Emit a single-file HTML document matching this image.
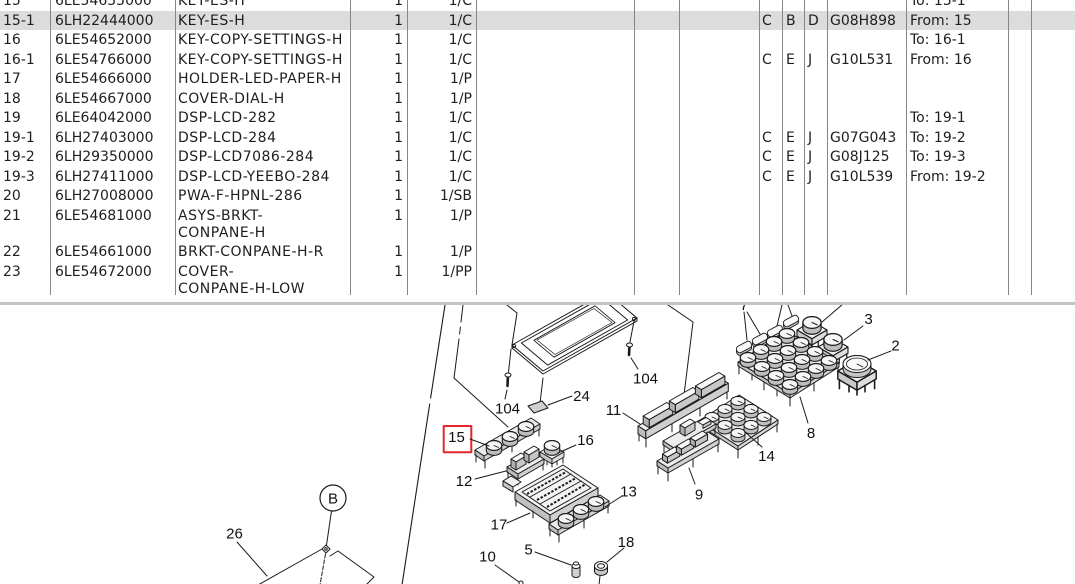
<!DOCTYPE html>
<html><head><meta charset="utf-8">
<style>
html,body{margin:0;padding:0;}
body{width:1075px;height:584px;overflow:hidden;background:#fff;position:relative;font-family:"DejaVu Sans","Liberation Sans",sans-serif;font-size:14px;color:#1e1e1e;}
.hl{position:absolute;left:0;top:11px;width:1075px;height:19px;background:#dcdcdc;}
.v{position:absolute;top:0;width:1px;height:295px;background:#868686;}
.sep{position:absolute;left:0;top:302px;width:1075px;height:3px;background:#c4c4c4;}
.row{position:absolute;left:0;width:1075px;height:17px;line-height:17px;}
.row span{position:absolute;top:0;white-space:nowrap;display:block;}
.c1{left:3px}.c2{left:55px}.c3{left:178px;letter-spacing:.5px}
.c4{left:350px;width:53px;text-align:right}
.c5{left:407px;width:65px;text-align:right}
.c9{left:762px}.c10{left:786px}.c11{left:808px}.c12{left:830px}.c13{left:910px}
svg{position:absolute;left:0;top:0;}
.lb{font-family:"Liberation Sans",Arial,sans-serif;font-size:15px;fill:#111;stroke:none;text-anchor:middle;}
</style></head><body>
<div class="hl"></div>
<div class="v" style="left:50px"></div>
<div class="v" style="left:175px"></div>
<div class="v" style="left:350px"></div>
<div class="v" style="left:407px"></div>
<div class="v" style="left:476px"></div>
<div class="v" style="left:634px"></div>
<div class="v" style="left:679px"></div>
<div class="v" style="left:759px"></div>
<div class="v" style="left:782px"></div>
<div class="v" style="left:804px"></div>
<div class="v" style="left:827px"></div>
<div class="v" style="left:906px"></div>
<div class="v" style="left:1008px"></div>
<div class="v" style="left:1031px"></div>

<div class="row" style="top:-7px"><span class="c1">15</span><span class="c2">6LE54655000</span><span class="c3">KEY-ES-H</span><span class="c4">1</span><span class="c5">1/C</span><span class="c13">To: 15-1</span></div>
<div class="row" style="top:12.5px"><span class="c1">15-1</span><span class="c2">6LH22444000</span><span class="c3">KEY-ES-H</span><span class="c4">1</span><span class="c5">1/C</span><span class="c9">C</span><span class="c10">B</span><span class="c11">D</span><span class="c12">G08H898</span><span class="c13">From: 15</span></div>
<div class="row" style="top:32px"><span class="c1">16</span><span class="c2">6LE54652000</span><span class="c3">KEY-COPY-SETTINGS-H</span><span class="c4">1</span><span class="c5">1/C</span><span class="c13">To: 16-1</span></div>
<div class="row" style="top:51.5px"><span class="c1">16-1</span><span class="c2">6LE54766000</span><span class="c3">KEY-COPY-SETTINGS-H</span><span class="c4">1</span><span class="c5">1/C</span><span class="c9">C</span><span class="c10">E</span><span class="c11">J</span><span class="c12">G10L531</span><span class="c13">From: 16</span></div>
<div class="row" style="top:71px"><span class="c1">17</span><span class="c2">6LE54666000</span><span class="c3">HOLDER-LED-PAPER-H</span><span class="c4">1</span><span class="c5">1/P</span></div>
<div class="row" style="top:90.5px"><span class="c1">18</span><span class="c2">6LE54667000</span><span class="c3">COVER-DIAL-H</span><span class="c4">1</span><span class="c5">1/P</span></div>
<div class="row" style="top:110px"><span class="c1">19</span><span class="c2">6LE64042000</span><span class="c3">DSP-LCD-282</span><span class="c4">1</span><span class="c5">1/C</span><span class="c13">To: 19-1</span></div>
<div class="row" style="top:129.5px"><span class="c1">19-1</span><span class="c2">6LH27403000</span><span class="c3">DSP-LCD-284</span><span class="c4">1</span><span class="c5">1/C</span><span class="c9">C</span><span class="c10">E</span><span class="c11">J</span><span class="c12">G07G043</span><span class="c13">To: 19-2</span></div>
<div class="row" style="top:149px"><span class="c1">19-2</span><span class="c2">6LH29350000</span><span class="c3">DSP-LCD7086-284</span><span class="c4">1</span><span class="c5">1/C</span><span class="c9">C</span><span class="c10">E</span><span class="c11">J</span><span class="c12">G08J125</span><span class="c13">To: 19-3</span></div>
<div class="row" style="top:168.5px"><span class="c1">19-3</span><span class="c2">6LH27411000</span><span class="c3">DSP-LCD-YEEBO-284</span><span class="c4">1</span><span class="c5">1/C</span><span class="c9">C</span><span class="c10">E</span><span class="c11">J</span><span class="c12">G10L539</span><span class="c13">From: 19-2</span></div>
<div class="row" style="top:188px"><span class="c1">20</span><span class="c2">6LH27008000</span><span class="c3">PWA-F-HPNL-286</span><span class="c4">1</span><span class="c5">1/SB</span></div>
<div class="row" style="top:207.5px"><span class="c1">21</span><span class="c2">6LE54681000</span><span class="c3">ASYS-BRKT-<br>CONPANE-H</span><span class="c4">1</span><span class="c5">1/P</span></div>
<div class="row" style="top:244px"><span class="c1">22</span><span class="c2">6LE54661000</span><span class="c3">BRKT-CONPANE-H-R</span><span class="c4">1</span><span class="c5">1/P</span></div>
<div class="row" style="top:263.5px"><span class="c1">23</span><span class="c2">6LE54672000</span><span class="c3">COVER-<br>CONPANE-H-LOW</span><span class="c4">1</span><span class="c5">1/PP</span></div>

<div class="sep"></div>

<svg width="1075" height="584" viewBox="0 0 1075 584">
<defs>
<clipPath id="dc"><rect x="0" y="305" width="1075" height="279"/></clipPath>
<g id="cap">
<path d="M-7,-0.5 V-5 A7,4.5 0 0 1 7,-5 V-0.5 A7,4.5 0 0 1 -7,-0.5 Z" fill="#bdbdbd" stroke="#1a1a1a" stroke-width=".95"/>
<ellipse cx="0" cy="-5" rx="7" ry="4.5" fill="#f6f6f6" stroke="#1a1a1a" stroke-width=".95"/>
<path d="M0,-5 L4,-3.2" stroke="#1a1a1a" stroke-width=".8" fill="none"/>
</g>
<g id="kb">
<path d="M-12,0 L0,-7 L12,0 L0,7 Z" fill="#f0f0f0" stroke="#1a1a1a" stroke-width=".9"/>
<path d="M-12,0 V5 L0,12 V7 Z" fill="#c8c8c8" stroke="#1a1a1a" stroke-width=".9"/>
<path d="M0,7 V12 L12,5 V0 Z" fill="#dddddd" stroke="#1a1a1a" stroke-width=".9"/>
<path d="M-11,5.5 V11 M11,5.5 V11 M0,12 V15 M-5,9 V13 M5,9 V13" stroke="#1a1a1a" stroke-width="1" fill="none"/>
</g>
</defs>
<g clip-path="url(#dc)" fill="none" stroke="#1a1a1a" stroke-width="1" stroke-linejoin="round" stroke-linecap="round">

<!-- chain line -->
<path d="M445,305 L430.6,398 M429.7,404 L402,585" stroke-width="1.1"/>
<!-- line to 15 -->
<path d="M463,305 L461,322 M460.4,327 L459.6,334 M459,339 L454,378 L508,427"/>

<!-- LCD panel -->
<path d="M507,305 L517,313 L512,345"/>
<path d="M512,345 L543,371 L637,318 L606,292 Z" fill="#fff"/>
<path d="M512,345 L512,348 L543,374 L637,321 L637,318"/>
<path d="M521.4,343 L547.7,365.1 L627.6,320 L601.3,297.9 Z"/>
<path d="M533.9,340.3 L554,357.2 L615.1,322.7 L595,305.8 Z" stroke-width=".9"/>
<path d="M537,340 L555,354.5 L612,322.5 L594,308.5 Z" stroke-width=".7"/>
<circle cx="514" cy="346" r="1.6"/>
<circle cx="634" cy="319" r="1.6"/>
<!-- left screw 104 -->
<path d="M511,349 L508.5,372"/>
<path d="M508,375 L507.5,386" stroke-width="2.6"/>
<ellipse cx="508" cy="375" rx="3" ry="2" fill="#fff"/>
<path d="M507,390 L505,399"/>
<!-- right screw 104 -->
<path d="M634,321 L630,342"/>
<path d="M629.5,345 L629,355" stroke-width="2.6"/>
<ellipse cx="629.5" cy="345" rx="3" ry="2" fill="#fff"/>
<path d="M631,358 L638,369"/>
<!-- 24 -->
<path d="M543,378 L540,403"/>
<path d="M528,406 L542,401 L548,408 L534,413 Z" fill="#d0d0d0"/>
<path d="M548,405 L572,396"/>

<!-- line to 11 -->
<path d="M668,305 L693,322 L684,395"/>
<path d="M623,413 L640,424"/>

<!-- item 11 strip -->
<path d="M638,426 L720.6,378.5 L728.3,383.3 L645.7,430.8 Z" fill="#f0f0f0"/>
<path d="M645.7,430.8 L728.3,383.3 L728.3,391.3 L645.7,438.8 Z" fill="#cfcfcf"/>
<path d="M638,426 L645.7,430.8 L645.7,438.8 L638,434 Z" fill="#bdbdbd"/>
<path d="M639,434 V441 M646,439 V447 M672,424 V432 M700,408 V416 M727,392 V399"/>
<path d="M643.2,416 L666.7,402.5 L672.7,406.2 L649.2,419.7Z" fill="#f8f8f8"/>
<path d="M649.2,419.7 L672.7,406.2 L672.7,414.2 L649.2,427.7Z" fill="#c8c8c8"/>
<path d="M643.2,416 L649.2,419.7 L649.2,427.7 L643.2,424Z" fill="#b0b0b0"/>
<path d="M669.3,401 L692.8,387.5 L698.8,391.2 L675.3,404.7Z" fill="#f8f8f8"/>
<path d="M675.3,404.7 L698.8,391.2 L698.8,399.2 L675.3,412.7Z" fill="#c8c8c8"/>
<path d="M669.3,401 L675.3,404.7 L675.3,412.7 L669.3,409Z" fill="#b0b0b0"/>
<path d="M695.4,386 L718.9,372.5 L724.9,376.2 L701.4,389.7Z" fill="#f8f8f8"/>
<path d="M701.4,389.7 L724.9,376.2 L724.9,384.2 L701.4,397.7Z" fill="#c8c8c8"/>
<path d="M695.4,386 L701.4,389.7 L701.4,397.7 L695.4,394Z" fill="#b0b0b0"/>

<!-- item 7 keys -->
<g stroke-width=".9">
<rect x="-8" y="-3.5" width="16" height="7" rx="3" transform="translate(744,349.5) rotate(-28)" fill="#c0c0c0"/>
<rect x="-8" y="-3.5" width="16" height="7" rx="3" transform="translate(744,347) rotate(-28)" fill="#f8f8f8"/>
<rect x="-8" y="-3.5" width="16" height="7" rx="3" transform="translate(760,341.5) rotate(-28)" fill="#c0c0c0"/>
<rect x="-8" y="-3.5" width="16" height="7" rx="3" transform="translate(760,339) rotate(-28)" fill="#f8f8f8"/>
<rect x="-8" y="-3.5" width="16" height="7" rx="3" transform="translate(775,333.5) rotate(-28)" fill="#c0c0c0"/>
<rect x="-8" y="-3.5" width="16" height="7" rx="3" transform="translate(775,331) rotate(-28)" fill="#f8f8f8"/>
<rect x="-8" y="-3.5" width="16" height="7" rx="3" transform="translate(791,323.5) rotate(-28)" fill="#c0c0c0"/>
<rect x="-8" y="-3.5" width="16" height="7" rx="3" transform="translate(791,321) rotate(-28)" fill="#f8f8f8"/>
</g>
<path d="M747,340 L744,312 M760,334 L747,312 M777,326 L782,305 M792,316 L788,305"/>
<text class="lb" x="744" y="310">7</text>

<!-- key above 3 -->
<use href="#kb" transform="translate(812,330) scale(1.25)"/>
<use href="#cap" transform="translate(812,329) scale(1.3)"/>
<path d="M822,322 L843,304"/>
<!-- item 3 -->
<use href="#kb" transform="translate(833,347) scale(1.25)"/>
<use href="#cap" transform="translate(833,346) scale(1.3)"/>
<path d="M863,326 L844,340"/>
<!-- item 2 -->
<use href="#kb" transform="translate(857,371) scale(1.6)"/>
<path d="M843,369 V364 A14,8.5 0 0 1 871,364 V369 A14,8.5 0 0 1 843,369 Z" fill="#c4c4c4"/>
<ellipse cx="857" cy="364" rx="14" ry="8.5" fill="#f8f8f8"/>
<ellipse cx="857" cy="364" rx="10.5" ry="6" stroke-width=".8"/>
<path d="M857,364 L863,367" stroke-width=".8"/>
<path d="M891,351 L868,360"/>

<!-- item 8 board -->
<path d="M738,362 L787,331 L839,363 L790,394 Z" fill="#ececec"/>
<path d="M738,362 V366 L790,398 V394 Z" fill="#c6c6c6"/>
<path d="M790,398 L839,367 V363 L790,394 Z" fill="#d8d8d8"/>
<path d="M739,366 V374 M764,382 V390 M790,398 V406 M814,383 V391 M838,367 V375 M752,374 V380 M777,390 V396"/>
<use href="#cap" transform="translate(787,339) scale(1.1)"/>
<use href="#cap" transform="translate(801,348) scale(1.1)"/>
<use href="#cap" transform="translate(774,347) scale(1.1)"/>
<use href="#cap" transform="translate(815,357) scale(1.1)"/>
<use href="#cap" transform="translate(788,356) scale(1.1)"/>
<use href="#cap" transform="translate(761,355) scale(1.1)"/>
<use href="#cap" transform="translate(829,366) scale(1.1)"/>
<use href="#cap" transform="translate(802,365) scale(1.1)"/>
<use href="#cap" transform="translate(775,364) scale(1.1)"/>
<use href="#cap" transform="translate(748,363) scale(1.1)"/>
<use href="#cap" transform="translate(816,374) scale(1.1)"/>
<use href="#cap" transform="translate(789,373) scale(1.1)"/>
<use href="#cap" transform="translate(762,372) scale(1.1)"/>
<use href="#cap" transform="translate(803,382) scale(1.1)"/>
<use href="#cap" transform="translate(776,381) scale(1.1)"/>
<use href="#cap" transform="translate(790,390) scale(1.1)"/>
<path d="M808,423 L800,397"/>

<!-- item 14 board -->
<path d="M699,421 L739,395 L778,420 L738,446 Z" fill="#ececec"/>
<path d="M699,421 V425 L738,450 V446 Z" fill="#c6c6c6"/>
<path d="M738,450 L778,424 V420 L738,446 Z" fill="#d8d8d8"/>
<path d="M700,425 V433 M718,437 V445 M738,450 V458 M758,437 V445 M777,424 V432"/>
<use href="#cap" transform="translate(738,406)"/>
<use href="#cap" transform="translate(725,414)"/>
<use href="#cap" transform="translate(751,414)"/>
<use href="#cap" transform="translate(712,422)"/>
<use href="#cap" transform="translate(738,422)"/>
<use href="#cap" transform="translate(764,422)"/>
<use href="#cap" transform="translate(725,430)"/>
<use href="#cap" transform="translate(751,430)"/>
<use href="#cap" transform="translate(738,438)"/>
<path d="M762,447 L745,432"/>

<!-- item 9 upper board -->
<path d="M663,441 L705,417 L716,424 L674,448 Z" fill="#ececec"/>
<path d="M674,448 L716,424 V428 L674,452 Z" fill="#d0d0d0"/>
<path d="M663,441 L674,448 V452 L663,445 Z" fill="#bdbdbd"/>
<path d="M664,445 V452 M715,428 V435"/>
<path d="M680,425 L690,419 L695,422 L685,428Z" fill="#f8f8f8"/>
<path d="M685,428 L695,422 V430 L685,436Z" fill="#c6c6c6"/>
<path d="M680,425 L685,428 V436 L680,433Z" fill="#b0b0b0"/>
<path d="M698,422 L706,417.5 L711,420.5 L703,425Z" fill="#f8f8f8"/>
<path d="M703,425 L711,420.5 V424 L703,428.5Z" fill="#c6c6c6"/>
<!-- item 9 lower board -->
<path d="M657,461 L708,432 L719,439 L668,468 Z" fill="#ececec"/>
<path d="M668,468 L719,439 V444 L668,473 Z" fill="#d0d0d0"/>
<path d="M657,461 L668,468 V473 L657,466 Z" fill="#bdbdbd"/>
<path d="M658,466 V474 M668,473 V481 M693,459 V467 M718,444 V452"/>
<path d="M662.5,454 L674.7,447 L679.7,450.2 L667.5,457.2Z" fill="#f8f8f8"/>
<path d="M667.5,457.2 L679.7,450.2 V456.2 L667.5,463.2Z" fill="#c6c6c6"/>
<path d="M662.5,454 L667.5,457.2 V463.2 L662.5,460Z" fill="#b0b0b0"/>
<path d="M676.4,446 L688.6,439 L693.6,442.2 L681.4,449.2Z" fill="#f8f8f8"/>
<path d="M681.4,449.2 L693.6,442.2 V448.2 L681.4,455.2Z" fill="#c6c6c6"/>
<path d="M676.4,446 L681.4,449.2 V455.2 L676.4,452Z" fill="#b0b0b0"/>
<path d="M690.3,438 L702.5,431 L707.5,434.2 L695.3,441.2Z" fill="#f8f8f8"/>
<path d="M695.3,441.2 L707.5,434.2 V440.2 L695.3,447.2Z" fill="#c6c6c6"/>
<path d="M690.3,438 L695.3,441.2 V447.2 L690.3,444Z" fill="#b0b0b0"/>
<path d="M695,484 L689,468"/>

<!-- item 15 strip -->
<path d="M475,450 L531,418 L540,424 L484,456 Z" fill="#ececec"/>
<path d="M484,456 L540,424 V429 L484,461 Z" fill="#cfcfcf"/>
<path d="M475,450 L484,456 V461 L475,455 Z" fill="#bdbdbd"/>
<path d="M476,455 V462 M485,461 V468 M512,445 V452 M539,429 V436"/>
<use href="#cap" transform="translate(526,432) scale(1.1)"/>
<use href="#cap" transform="translate(510,442) scale(1.1)"/>
<use href="#cap" transform="translate(494,451) scale(1.1)"/>
<rect x="443.7" y="426" width="27.6" height="26.3" stroke="#e3262a" stroke-width="2"/>
<path d="M470,439 L489,446"/>

<!-- item 16 -->
<use href="#kb" x="552" y="452"/>
<use href="#cap" transform="translate(552,451) scale(1.1)"/>
<path d="M576,445 L558,453"/>

<!-- item 12 -->
<path d="M507,467 L533,452 L544,459 L518,474 Z" fill="#ececec"/>
<path d="M518,474 L544,459 V464 L518,479 Z" fill="#cfcfcf"/>
<path d="M507,467 L518,474 V479 L507,472 Z" fill="#bdbdbd"/>
<path d="M508,472 V478 M518,479 V485 M543,464 V470"/>
<path d="M511,459 L521,453 L526,456 L516,462Z" fill="#f8f8f8"/>
<path d="M516,462 L526,456 V464 L516,470Z" fill="#c6c6c6"/>
<path d="M511,459 L516,462 V470 L511,467Z" fill="#b0b0b0"/>
<path d="M524,452 L534,446 L539,449 L529,455Z" fill="#f8f8f8"/>
<path d="M529,455 L539,449 V457 L529,463Z" fill="#c6c6c6"/>
<path d="M524,452 L529,455 V463 L524,460Z" fill="#b0b0b0"/>
<path d="M475,479 L506,471"/>

<!-- item 17 tray -->
<path d="M503,481 L511,476 L521,482 L513,487Z" fill="#f0f0f0"/>
<path d="M503,481 V486 L513,492 V487 Z" fill="#c4c4c4"/>
<path d="M515,492 L563,465 L598,488 L550,515Z" fill="#f4f4f4"/>
<path d="M550,515 L598,488 V496 L550,523Z" fill="#d0d0d0"/>
<path d="M515,492 L550,515 V523 L515,500Z" fill="#c0c0c0"/>
<path d="M522,492 L563,469 L591,488 L550,511Z"/>
<path d="M530,497 L571,474 M540,504 L581,481"/>
<path d="M527,494 L566,472 M537,500 L576,478 M547,507 L586,484" stroke-width="2" stroke-dasharray="2.5 1.6" stroke-linecap="butt"/>
<path d="M516,500 V506 M533,511 V518 M550,523 V530 M597,496 V502"/>
<path d="M507,523 L530,513"/>

<!-- item 13 strip -->
<path d="M549,524 L600,495 L609,501 L558,530 Z" fill="#ececec"/>
<path d="M558,530 L609,501 V506 L558,535 Z" fill="#cfcfcf"/>
<path d="M549,524 L558,530 V535 L549,529 Z" fill="#bdbdbd"/>
<path d="M550,529 V536 M559,535 V542 M584,521 V528 M608,506 V513"/>
<use href="#cap" transform="translate(596,507) scale(1.1)"/>
<use href="#cap" transform="translate(581,515) scale(1.1)"/>
<use href="#cap" transform="translate(566,524) scale(1.1)"/>
<path d="M622,496 L605,507"/>

<!-- item 5 -->
<path d="M535,552 L571,565"/>
<path d="M572,566 V575 A4,2.5 0 0 0 580,575 V566" fill="#d0d0d0"/>
<ellipse cx="576" cy="566" rx="4" ry="2.5" fill="#f8f8f8"/>
<ellipse cx="576" cy="563.5" rx="2.6" ry="1.6" fill="#fff"/>
<!-- item 18 -->
<path d="M624,548 L607,562"/>
<path d="M594.5,566 V571 A6.5,4.5 0 0 0 607.5,571 V566" fill="#c6c6c6"/>
<ellipse cx="601" cy="566" rx="6.5" ry="4.5" fill="#f8f8f8"/>
<ellipse cx="601" cy="566" rx="3.5" ry="2.3"/>
<path d="M600,576 L599,585"/>
<!-- item 10 -->
<path d="M495,565 L519,582"/>
<circle cx="521" cy="583" r="2"/>

<!-- B and 26 -->
<circle cx="333" cy="498" r="13" fill="#fff" stroke-width="1.2"/>
<path d="M331.5,511 L326.5,545"/>
<path d="M326,545 L330,549 L326,553 L322,549Z" fill="#fff"/>
<circle cx="326" cy="549" r="1.2"/>
<path d="M325.5,554 L320,585" stroke-dasharray="4 2"/>
<path d="M258,585 L322,549"/>
<path d="M330,556 L338,551 L374,577 L367,584"/>
<path d="M237,542 L267,576"/>

<!-- labels -->
<text class="lb" x="456.5" y="442">15</text>
<text class="lb" x="464" y="486">12</text>
<text class="lb" x="499" y="529.5">17</text>
<text class="lb" x="585.5" y="445">16</text>
<text class="lb" x="628.5" y="496.5">13</text>
<text class="lb" x="487.5" y="561.5">10</text>
<text class="lb" x="528.5" y="554.5">5</text>
<text class="lb" x="626" y="547">18</text>
<text class="lb" x="234.5" y="538.5">26</text>
<text class="lb" x="507.5" y="413.5">104</text>
<text class="lb" x="645.5" y="383.5">104</text>
<text class="lb" x="581.5" y="401">24</text>
<text class="lb" x="613.5" y="415">11</text>
<text class="lb" x="766.5" y="461">14</text>
<text class="lb" x="699" y="499.5">9</text>
<text class="lb" x="811" y="438">8</text>
<text class="lb" x="868.5" y="324">3</text>
<text class="lb" x="895.5" y="350.5">2</text>
<text class="lb" x="333" y="503.5">B</text>
</g>
</svg>
</body></html>
